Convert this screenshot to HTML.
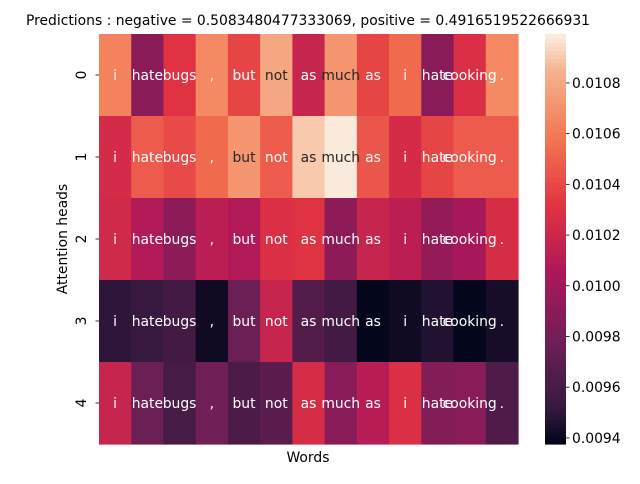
<!DOCTYPE html>
<html><head><meta charset="utf-8"><style>
body{margin:0;background:#fff;font-family:"DejaVu Sans","Liberation Sans",sans-serif}
</style></head><body>
<svg id="chart" width="640" height="480" xmlns="http://www.w3.org/2000/svg" font-family="DejaVu Sans, Liberation Sans, sans-serif">
<text x="308" y="25" font-size="13.9" text-anchor="middle">Predictions : negative = 0.5083480477333069, positive = 0.4916519522666931</text>
<g id="cells"></g>
<g id="annots"></g>
<g id="yticks"></g>
<text transform="translate(67,239) rotate(-90)" font-size="13.9" text-anchor="middle">Attention heads</text>
<text x="308" y="462" font-size="13.9" text-anchor="middle">Words</text>
<g id="cbar"></g>
</svg>
<script>
const words = ["i","hate","bugs",",","but","not","as","much","as","i","hate","cooking","."];
const heads = ["0","1","2","3","4"];
const row0 = [0.01064,0.00989,0.01031,0.01067,0.01039,0.01080,0.01018,0.01073,0.01039,0.01054,0.00989,0.01028,0.01067];
const row1 = [0.01025,0.01048,0.01041,0.01054,0.01073,0.01048,0.01091,0.01099,0.01046,0.01025,0.01039,0.01048,0.01048];
const row2 = [0.01023,0.01007,0.00991,0.01012,0.01007,0.01028,0.01031,0.00991,0.01018,0.01012,0.00994,0.01002,0.01026];
const row3 = [0.00949,0.00952,0.00957,0.00941,0.00976,0.01018,0.00965,0.00957,0.00938,0.00941,0.00946,0.00938,0.00943];
const row4 = [0.01018,0.00976,0.00959,0.00978,0.00962,0.00968,0.01026,0.00988,0.01010,0.01028,0.00986,0.00988,0.00963];
const rows = [row0,row1,row2,row3,row4];
const cbTicks = [0.0094,0.0096,0.0098,0.0100,0.0102,0.0104,0.0106,0.0108];
const vmin = 0.009376, vmax = 0.010993;

const NS="http://www.w3.org/2000/svg";
const X0=99,X1=518,Y0=34,Y1=444;
const cw=(X1-X0)/words.length, rh=(Y1-Y0)/heads.length;
const stops=[[0,"#03051a"],[0.083,"#35193e"],[0.25,"#701f57"],[0.417,"#ad1759"],[0.583,"#e13342"],[0.75,"#f37651"],[0.917,"#f6b48f"],[1,"#faebdd"]];
function hex(h){return [1,3,5].map(i=>parseInt(h.substr(i,2),16));}
function cmap(t){t=Math.max(0,Math.min(1,t));for(let i=1;i<stops.length;i++){if(t<=stops[i][0]){const a=hex(stops[i-1][1]),b=hex(stops[i][1]);const f=(t-stops[i-1][0])/(stops[i][0]-stops[i-1][0]);return a.map((v,k)=>Math.round(v+(b[k]-v)*f));}}return hex(stops[stops.length-1][1]);}
function norm(v){return (v-vmin)/(vmax-vmin);}
function lum(c){const l=c.map(v=>{v/=255;return v<=0.03928?v/12.92:Math.pow((v+0.055)/1.055,2.4);});return 0.2126*l[0]+0.7152*l[1]+0.0722*l[2];}
function el(tag,attrs,parent){const e=document.createElementNS(NS,tag);for(const k in attrs)e.setAttribute(k,attrs[k]);parent.appendChild(e);return e;}
const cells=document.getElementById("cells");
const annots=document.getElementById("annots");
rows.forEach((r,i)=>{r.forEach((v,j)=>{
  const c=cmap(norm(v));
  const rect=el("rect",{x:X0+j*cw,y:Y0+i*rh,width:cw+0.6,height:rh+0.6,fill:`rgb(${c})`},cells);
  
  
  const t=el("text",{x:X0+(j+0.5)*cw,y:Y0+(i+0.5)*rh+5,"font-size":"13.9","text-anchor":"middle",fill:lum(c)>0.408?"#262626":"#ffffff"},annots);
  t.textContent=words[j];
  
  
});});
const yt=document.getElementById("yticks");
heads.forEach((h,i)=>{
  const yy=Y0+(i+0.5)*rh;
  const ln=el("line",{x1:X0-3.5,x2:X0,y1:yy,y2:yy,stroke:"#000","stroke-width":0.8},yt);
  
  
  const t=el("text",{transform:`translate(86,${yy}) rotate(-90)`,"font-size":"13.9","text-anchor":"middle"},yt);
  t.textContent=h;
  
  
});
const cb=document.getElementById("cbar");
const CX=545,CW=21,N=100;
for(let k=0;k<N;k++){
  const c=cmap(k/(N-1));
  const r=el("rect",{x:CX,y:Y1-(k+1)*(Y1-Y0)/N,width:CW,height:(Y1-Y0)/N+0.6,fill:`rgb(${c})`},cb);
  
  
}
cbTicks.forEach(v=>{
  const yy=Y1-norm(v)*(Y1-Y0);
  const ln=el("line",{x1:CX+CW,x2:CX+CW+3.5,y1:yy,y2:yy,stroke:"#000","stroke-width":0.8},cb);
  
  
  const t=el("text",{x:CX+CW+6,y:yy+5,"font-size":"13.9"},cb);
  t.textContent=v.toFixed(4);
  
  
});
</script>
</body></html>
